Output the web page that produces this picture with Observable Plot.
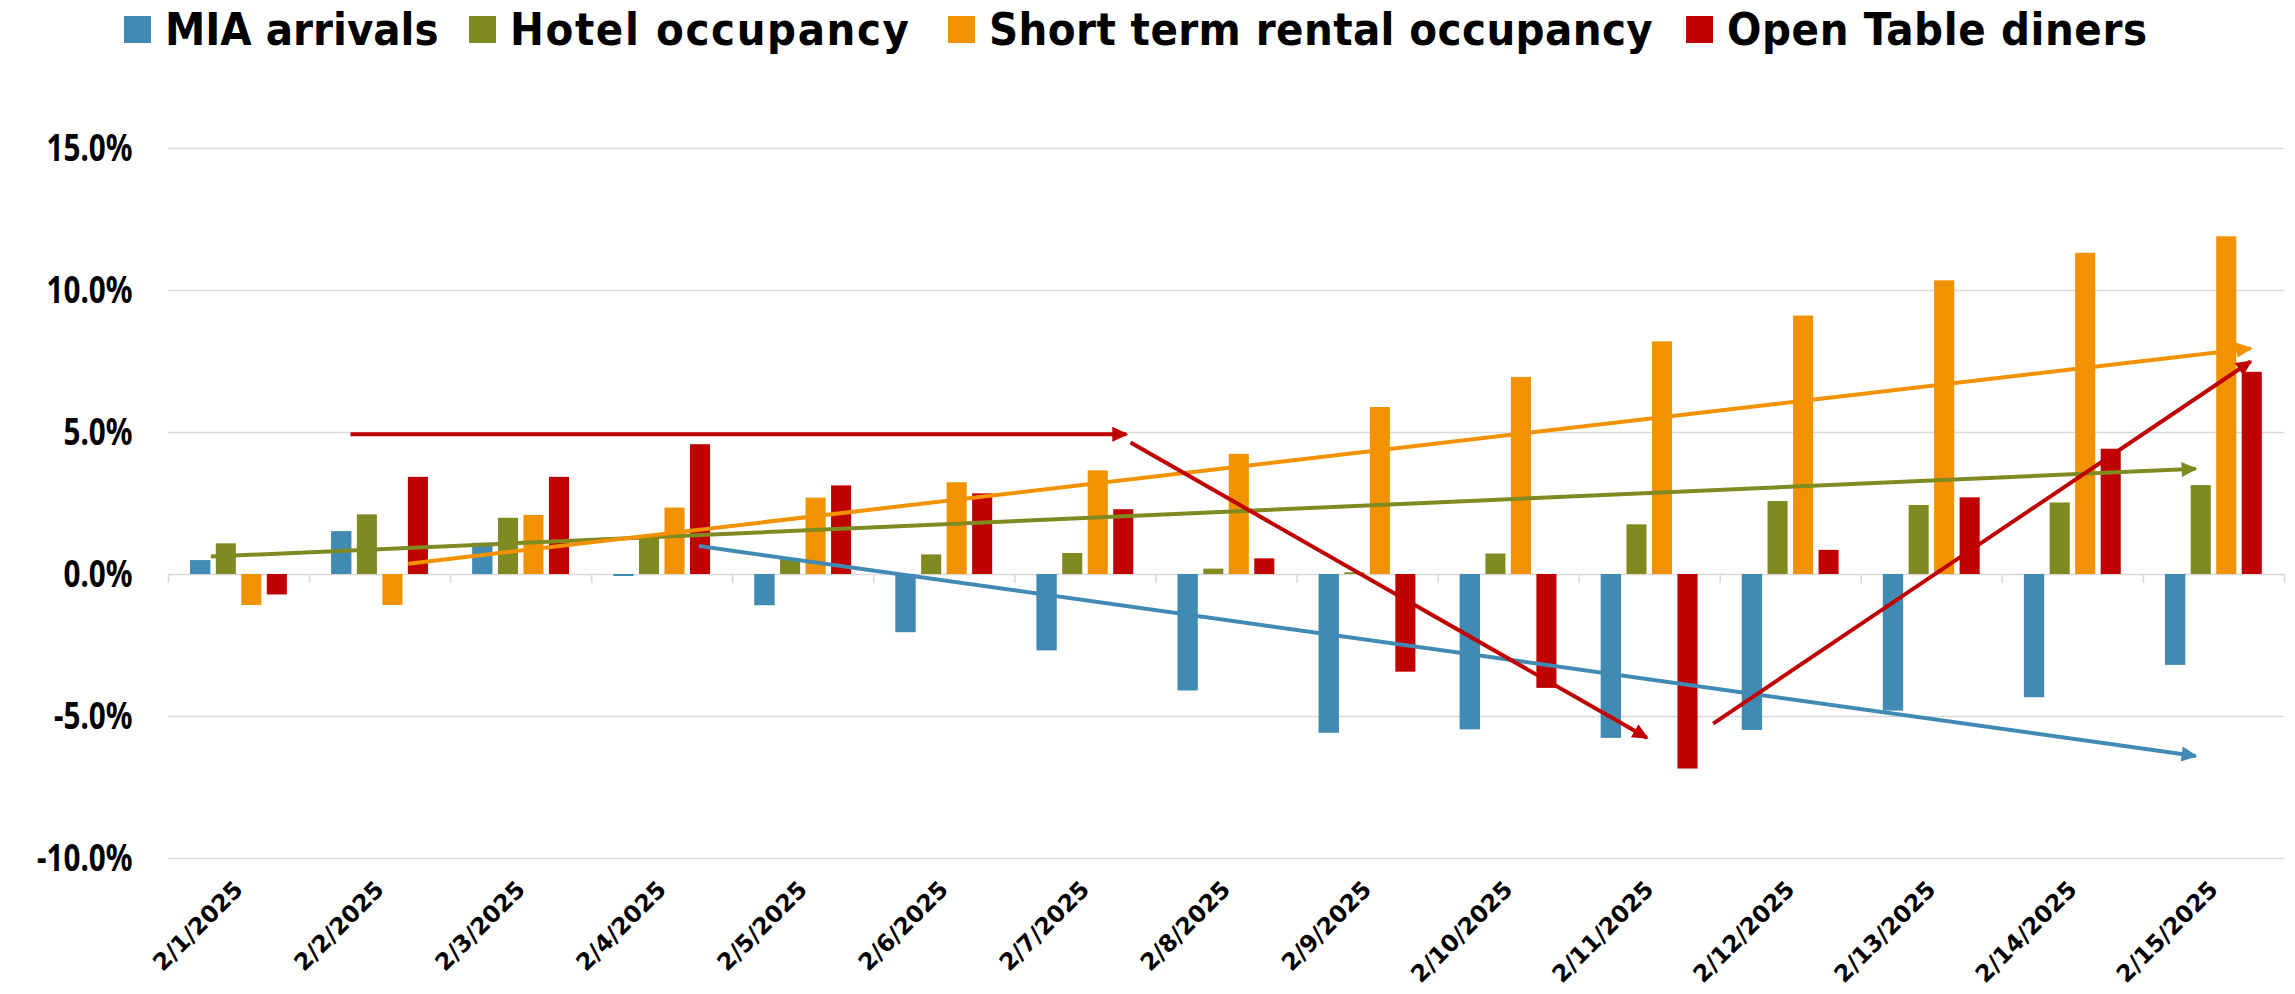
<!DOCTYPE html>
<html><head><meta charset="utf-8">
<script src="https://cdn.jsdelivr.net/npm/d3@7"></script>
<script src="https://cdn.jsdelivr.net/npm/@observablehq/plot@0.6"></script>
<style>
body{margin:0;background:#fff;width:2295px;height:994px;overflow:hidden}
#legend{position:relative;height:58px;font-family:"DejaVu Sans Condensed","DejaVu Sans",sans-serif;font-stretch:condensed;font-weight:bold;font-size:45px;color:#000;line-height:1;white-space:nowrap}
.item{position:absolute;top:0;height:58px;display:flex;align-items:center}
.sw{width:27px;height:27px;margin-right:14px;flex:none}
#chart svg{display:block}
g[aria-label^="x-axis"] text{font-family:"DejaVu Sans",sans-serif;font-weight:bold;font-size:23.5px;fill:#000}
g[aria-label^="y-axis"] text{font-family:"Noto Sans","DejaVu Sans",sans-serif;font-weight:bold;font-size:38px;fill:#000}
</style></head><body>
<div id="legend"></div><div id="chart"></div>
<script>
// ---- data ----
const dates = ["2/1/2025","2/2/2025","2/3/2025","2/4/2025","2/5/2025","2/6/2025","2/7/2025","2/8/2025","2/9/2025","2/10/2025","2/11/2025","2/12/2025","2/13/2025","2/14/2025","2/15/2025"];
const seriesNames = ["MIA arrivals","Hotel occupancy","Short term rental occupancy","Open Table diners"];
const seriesColors = ["#418AB3","#7F8B21","#F39200","#C00000"];
const miaArrivals      = [0.49, 1.51, 1.10, -0.07, -1.10, -2.05, -2.69, -4.10, -5.59, -5.47, -5.77, -5.49, -4.81, -4.34, -3.20];
const hotelOccupancy   = [1.08, 2.10, 1.98, 1.35, 0.55, 0.69, 0.74, 0.19, 0.06, 0.72, 1.75, 2.57, 2.43, 2.52, 3.13];
const shortTermRental  = [-1.09, -1.09, 2.08, 2.34, 2.69, 3.23, 3.65, 4.23, 5.88, 6.94, 8.19, 9.10, 10.34, 11.31, 11.89];
const openTableDiners  = [-0.72, 3.42, 3.42, 4.57, 3.12, 2.84, 2.28, 0.55, -3.44, -4.01, -6.85, 0.85, 2.70, 4.41, 7.12];
const yTicks = [-10, -5, 0, 5, 10, 15];
// hand-drawn trend arrows (x in category units, y in %)
const arrowSeries = ["MIA arrivals","Hotel occupancy","Short term rental occupancy","Open Table diners","Open Table diners","Open Table diners"];
const arrowX1 = [3.76, 0.30, 1.70, 1.29, 6.82, 10.95];
const arrowY1 = [1.00, 0.63, 0.38, 4.94, 4.65, -5.25];
const arrowX2 = [14.37, 14.37, 14.76, 6.79, 10.48, 14.76];
const arrowY2 = [-6.39, 3.72, 7.96, 4.94, -5.75, 7.50];

// ---- layout / style ----
const W = 2295, H = 936;
const mL = 168, mR = 11, mT = 90, mB = 136;
const barInsets = [[22, 98.7], [47.8, 73.2], [73.3, 47.7], [98.8, 22.2]];
const legendLeft = [124, 469, 948, 1686];
const legendSpacing = [0, 1.6, 0.4, 0.6];
const yLabelSqueeze = 0.78;
const seriesValues = [miaArrivals, hotelOccupancy, shortTermRental, openTableDiners];

// legend
const legend = document.getElementById("legend");
seriesNames.forEach((s, k) => {
  const it = document.createElement("div"); it.className = "item"; it.style.left = legendLeft[k] + "px";
  const sw = document.createElement("div"); sw.className = "sw"; sw.style.background = seriesColors[k];
  const tx = document.createElement("span"); tx.textContent = s; tx.style.letterSpacing = legendSpacing[k] + "px";
  it.appendChild(sw); it.appendChild(tx); legend.appendChild(it);
});

const arrows = arrowSeries.map((s, i) => ({series: s, x1: arrowX1[i], y1: arrowY1[i], x2: arrowX2[i], y2: arrowY2[i]}));
const tickPositions = dates.map((d, i) => i + 0.5);

const marks = [
  Plot.ruleY(yTicks, {stroke: "#d9d9d9", strokeWidth: 1.6}),
  Plot.ruleX(d3.range(dates.length + 1), {y1: 0, y2: 0, insetBottom: -9, stroke: "#d9d9d9", strokeWidth: 1.6}),
  ...seriesValues.map((vals, k) => Plot.rectY(vals, {
    x: (d, i) => i, interval: 1, y: d => d, fill: () => seriesNames[k],
    insetLeft: barInsets[k][0], insetRight: barInsets[k][1]
  })),
  Plot.link(arrows, {x1: "x1", y1: "y1", x2: "x2", y2: "y2", stroke: "series", strokeWidth: 4, markerEnd: "arrow"})
];

const chart = Plot.plot({
  width: W, height: H,
  marginLeft: mL, marginRight: mR, marginTop: mT, marginBottom: mB,
  style: {background: "white", overflow: "visible"},
  x: {type: "linear", domain: [0, dates.length], ticks: tickPositions, tickFormat: t => dates[Math.floor(t)], tickRotate: -45, tickSize: 0, tickPadding: 27, label: null},
  y: {domain: [-10, 15], ticks: yTicks, tickFormat: d => d.toFixed(1) + "%", tickSize: 0, tickPadding: 36, label: null},
  color: {domain: seriesNames, range: seriesColors},
  marks
});

chart.querySelectorAll("marker").forEach(m => {
  let c = m.getAttribute("stroke");
  if (!c) { const p = m.querySelector("path"); c = p ? p.getAttribute("stroke") : "#000"; }
  m.setAttribute("viewBox", "-15 -9 18 18");
  m.setAttribute("markerUnits", "userSpaceOnUse");
  m.setAttribute("markerWidth", "18");
  m.setAttribute("markerHeight", "18");
  m.setAttribute("fill", c);
  m.setAttribute("stroke", "none");
  m.innerHTML = '<path d="M-14,-7.5L2,0L-14,7.5Z"/>';
});

document.getElementById("chart").appendChild(chart);

// squeeze y tick labels horizontally (condensed face), keeping their right edge fixed
chart.querySelectorAll('g[aria-label^="y-axis"] text').forEach(t => {
  const b = t.getBBox();
  const r = b.x + b.width;
  const prev = t.getAttribute("transform") || "";
  t.setAttribute("transform", `${prev} translate(${r},0) scale(${yLabelSqueeze},1) translate(${-r},0)`.trim());
});
</script>
</body></html>
